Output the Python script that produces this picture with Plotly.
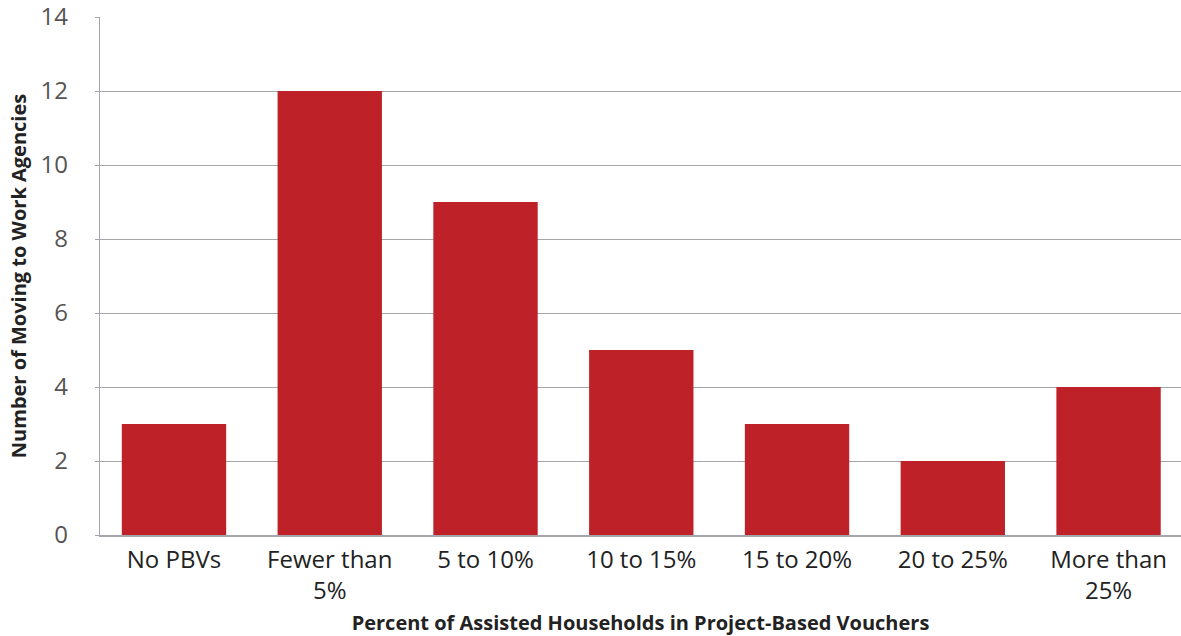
import plotly.graph_objects as go

categories = ["No PBVs", "Fewer than<br>5%", "5 to 10%", "10 to 15%", "15 to 20%", "20 to 25%", "More than<br>25%"]
values = [3, 12, 9, 5, 3, 2, 4]
y_ticks = [0, 2, 4, 6, 8, 10, 12, 14]

fig = go.Figure(go.Bar(x=categories, y=values, marker=dict(color="#be2228", line=dict(width=0)), width=0.67))

fig.update_layout(
    width=1181, height=636,
    margin=dict(l=100, r=0, t=17, b=101),
    plot_bgcolor="white", paper_bgcolor="white",
    font=dict(family="Open Sans, sans-serif", color="#222222"),
    showlegend=False,
)
fig.update_xaxes(
    range=[-0.475, 6.465],
    showline=True, linecolor="#a3a6aa", linewidth=2,
    tickfont=dict(size=24, color="#222222"),
    ticks="", ticklabelstandoff=2,
    title=dict(text="<b>Percent of Assisted Households in Project-Based Vouchers</b>",
               font=dict(size=20, color="#222222"), standoff=15),
)
fig.update_yaxes(
    range=[0, 14], tickvals=y_ticks,
    showgrid=True, gridcolor="#a3a6aa", gridwidth=1.3,
    showline=True, linecolor="#a3a6aa", linewidth=1.3,
    ticks="outside", ticklen=4, tickcolor="#a3a6aa",
    tickfont=dict(size=24, color="#555555"), ticklabelstandoff=22,
    ticklabeloverflow="allow",
    zeroline=False,
    title=dict(text="<b>Number of Moving to Work Agencies</b>",
               font=dict(size=20, color="#222222"), standoff=8),
)
fig.write_html("out.html")
